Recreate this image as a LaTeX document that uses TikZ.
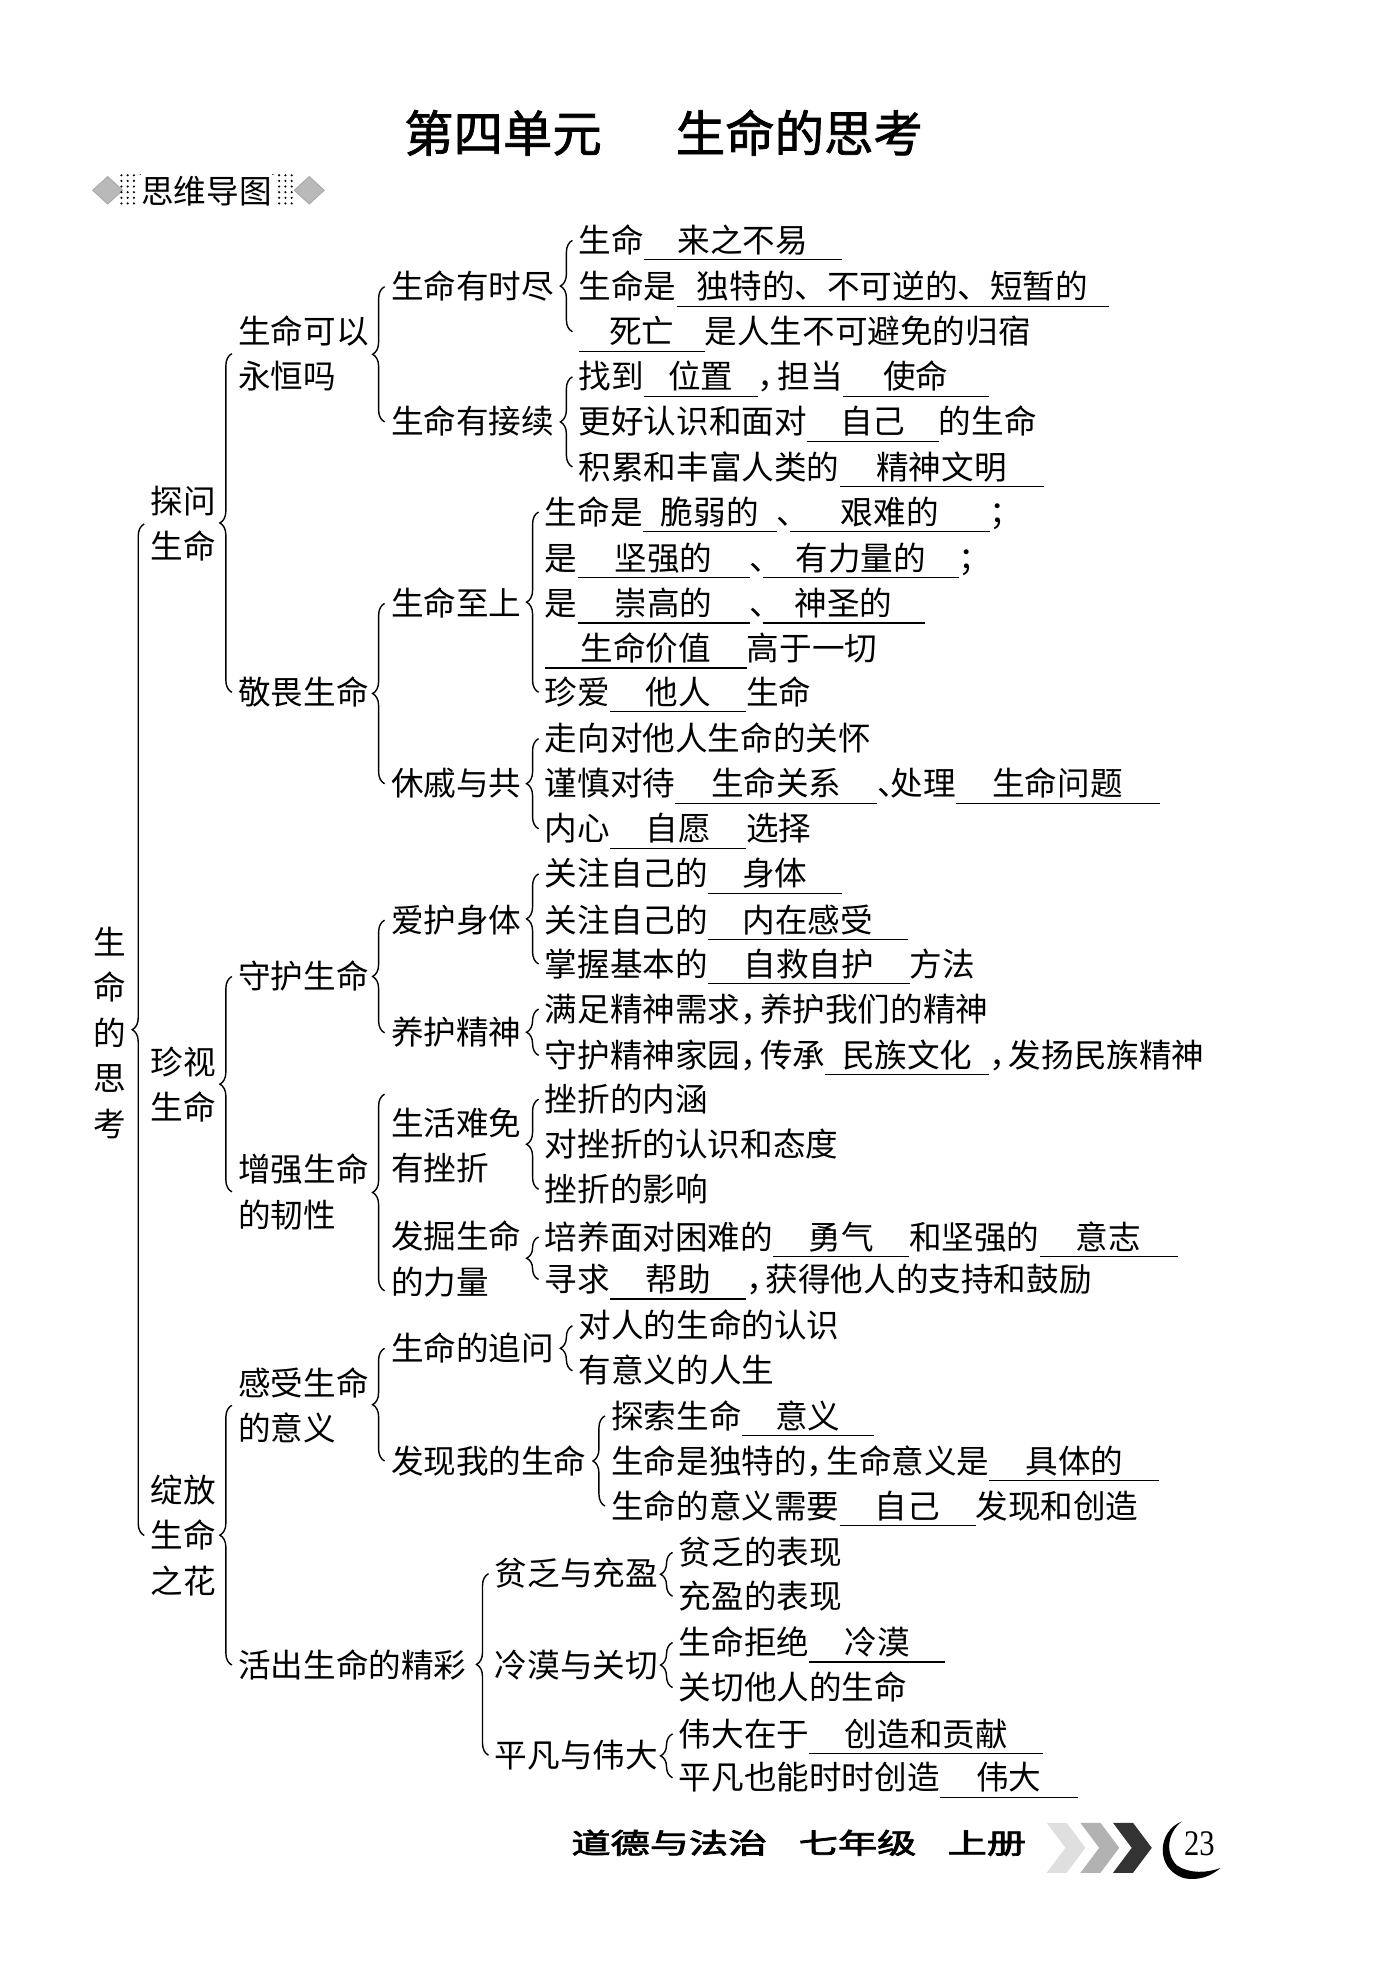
\documentclass[tikz,border=0pt]{standalone}
\usepackage{fontspec}
\setmainfont{Noto Sans CJK SC}
\newfontfamily\titlefont[FakeBold=1.5]{Noto Sans CJK SC}
\newfontfamily\footfont[FakeBold=2.5]{Noto Sans CJK SC}
\newfontfamily\numfont{Liberation Serif}
\usetikzlibrary{decorations.pathreplacing, positioning}

\newcommand{\blk}[2]{\rlap{\rule[-4pt]{#1}{0.6pt}}\makebox[#1]{#2}}
\newcommand{\cm}{\makebox[0.6em][l]{，}}
\newcommand{\dn}{\makebox[0.4em][l]{、}}

\tikzset{
  lbl/.style={anchor=west, inner sep=0pt, text height=14.2pt, text depth=2.1pt},
  lblm/.style={anchor=west, inner sep=0pt, align=left},
  brc/.style={decorate, decoration={brace, amplitude=6pt}, line width=0.7pt},
}

\begin{document}
\begin{tikzpicture}[x=0.626pt, y=-0.626pt, font=\fontsize{16.3}{22.7}\selectfont]
    \useasboundingbox (0,0) rectangle (1103,1568);

    % Title
    \node (title) at (530,106) {\titlefont\fontsize{24.7}{24.7}\selectfont 第四单元\hspace{1.5em}生命的思考};

    % Badge
    \filldraw [fill=gray!55, draw=gray!70] (74,152) -- (86,141) -- (98,152) -- (86,163) -- cycle;
    \filldraw [fill=gray!55, draw=gray!70] (235,152) -- (247,141) -- (259,152) -- (247,163) -- cycle;
    \foreach \dx in {97,102,107,112,218,223,228,233}
        \foreach \dy in {140,144.5,149,153.5,158,162.5}
            \fill (\dx,\dy) circle (0.6pt);
    \node [fill=white, inner sep=1pt] (badge) at (165,153) {思维导图};

    % Root and level 1
    \node [lblm, anchor=center, align=center] (root) at (88,825) {生\\命\\的\\思\\考};
    \node [lblm] (p1) at (120,418.5) {探问\\生命};
    \node [lblm] (p2) at (120,866.5) {珍视\\生命};
    \node [lblm] (p3) at (120,1226.5) {绽放\\生命\\之花};

    % Level 2
    \node [lblm] (q1) at (190,282.5) {生命可以\\永恒吗};
    \node [lbl]  (q2) at (190,553) {敬畏生命};
    \node [lbl]  (q3) at (190,780) {守护生命};
    \node [lblm] (q4) at (190,952) {增强生命\\的韧性};
    \node [lblm] (q5) at (190,1122.5) {感受生命\\的意义};
    \node [lbl]  (q6) at (190,1330) {活出生命的精彩};

    % Level 3
    \node [lbl]  (u1) at (312,229) {生命有时尽};
    \node [lbl]  (u2) at (312,337) {生命有接续};
    \node [lbl]  (u3) at (312,482) {生命至上};
    \node [lbl]  (u4) at (312,626) {休戚与共};
    \node [lbl]  (u5) at (312,735) {爱护身体};
    \node [lbl]  (u6) at (312,825) {养护精神};
    \node [lblm] (u7) at (312,915) {生活难免\\有挫折};
    \node [lblm] (u8) at (312,1005.5) {发掘生命\\的力量};
    \node [lbl]  (u9) at (312,1077) {生命的追问};
    \node [lbl]  (u10) at (312,1167) {发现我的生命};
    \node [lbl]  (u11) at (395,1257) {贫乏与充盈};
    \node [lbl]  (u12) at (395,1330) {冷漠与关切};
    \node [lbl]  (u13) at (395,1402) {平凡与伟大};

    % Leaves
    \node [lbl] (a1) at (462,192) {生命\blk{99pt}{来之不易}};
    \node [lbl] (a2) at (462,229) {生命是\blk{216pt}{独特的、不可逆的、短暂的}};
    \node [lbl] (a3) at (462,265) {\blk{63pt}{死亡}是人生不可避免的归宿};
    \node [lbl] (b1) at (462,301) {找到\blk{57pt}{位置}\cm 担当\blk{73pt}{使命}};
    \node [lbl] (b2) at (462,337) {更好认识和面对\blk{66pt}{自己}的生命};
    \node [lbl] (b3) at (462,373) {积累和丰富人类的\blk{102pt}{精神文明}};
    \node [lbl] (c1) at (435,409) {生命是\blk{67pt}{脆弱的}\dn\blk{100pt}{艰难的}；};
    \node [lbl] (c2) at (435,446) {是\blk{86pt}{坚强的}\dn\blk{98pt}{有力量的}；};
    \node [lbl] (c3) at (435,482) {是\blk{86pt}{崇高的}\dn\blk{81pt}{神圣的}};
    \node [lbl] (c4) at (435,518) {\blk{101pt}{生命价值}高于一切};
    \node [lbl] (c5) at (435,553) {珍爱\blk{68pt}{他人}生命};
    \node [lbl] (d1) at (435,590) {走向对他人生命的关怀};
    \node [lbl] (d2) at (435,626) {谨慎对待\blk{101pt}{生命关系}\dn 处理\blk{102pt}{生命问题}};
    \node [lbl] (d3) at (435,662) {内心\blk{68pt}{自愿}选择};
    \node [lbl] (e1) at (435,698) {关注自己的\blk{67pt}{身体}};
    \node [lbl] (e2) at (435,735) {关注自己的\blk{100pt}{内在感受}};
    \node [lbl] (e3) at (435,770) {掌握基本的\blk{101pt}{自救自护}方法};
    \node [lbl] (f1) at (435,806) {满足精神需求\cm 养护我们的精神};
    \node [lbl] (f2) at (435,843) {守护精神家园\cm 传承\blk{82pt}{民族文化}\cm 发扬民族精神};
    \node [lbl] (g1) at (435,878) {挫折的内涵};
    \node [lbl] (g2) at (435,914) {对挫折的认识和态度};
    \node [lbl] (g3) at (435,950) {挫折的影响};
    \node [lbl] (h1) at (435,988) {培养面对困难的\blk{68pt}{勇气}和坚强的\blk{69pt}{意志}};
    \node [lbl] (h2) at (435,1022) {寻求\blk{68pt}{帮助}\cm 获得他人的支持和鼓励};
    \node [lbl] (i1) at (462,1059) {对人的生命的认识};
    \node [lbl] (i2) at (462,1095) {有意义的人生};
    \node [lbl] (j1) at (488,1131) {探索生命\blk{66pt}{意义}};
    \node [lbl] (j2) at (488,1167) {生命是独特的\cm 生命意义是\blk{85pt}{具体的}};
    \node [lbl] (j3) at (488,1203) {生命的意义需要\blk{68pt}{自己}发现和创造};
    \node [lbl] (k1) at (542,1240) {贫乏的表现};
    \node [lbl] (k2) at (542,1275) {充盈的表现};
    \node [lbl] (l1) at (542,1312) {生命拒绝\blk{68pt}{冷漠}};
    \node [lbl] (l2) at (542,1348) {关切他人的生命};
    \node [lbl] (m1) at (542,1385) {伟大在于\blk{117pt}{创造和贡献}};
    \node [lbl] (m2) at (542,1420) {平凡也能时时创造\blk{69pt}{伟大}};

    % Braces
    \draw [brc] ([xshift=-3pt]p3.west) -- ([xshift=-3pt]p1.west);
    \draw [brc] ([xshift=-3pt]q2.west) -- ([xshift=-3pt]q1.west);
    \draw [brc] ([xshift=-3pt]q4.west) -- ([xshift=-3pt]q3.west);
    \draw [brc] ([xshift=-3pt]q6.west) -- ([xshift=-3pt]q5.west);
    \draw [brc] ([xshift=-3pt]u2.west) -- ([xshift=-3pt]u1.west);
    \draw [brc] ([xshift=-3pt]u4.west) -- ([xshift=-3pt]u3.west);
    \draw [brc] ([xshift=-3pt]u6.west) -- ([xshift=-3pt]u5.west);
    \draw [brc] ([xshift=-3pt,yshift=-16pt]u8.west) -- ([xshift=-3pt,yshift=25.7pt]u7.west);
    \draw [brc] ([xshift=-3pt]u10.west) -- ([xshift=-3pt]u9.west);
    \draw [brc] ([xshift=-3pt]u13.west) -- ([xshift=-3pt]u11.west);
    \draw [brc] ([xshift=-3pt]a3.west) -- ([xshift=-3pt]a1.west);
    \draw [brc] ([xshift=-3pt]b3.west) -- ([xshift=-3pt]b1.west);
    \draw [brc] ([xshift=-3pt]c5.west) -- ([xshift=-3pt]c1.west);
    \draw [brc] ([xshift=-3pt]d3.west) -- ([xshift=-3pt]d1.west);
    \draw [brc] ([xshift=-3pt]e3.west) -- ([xshift=-3pt]e1.west);
    \draw [brc] ([xshift=-3pt]f2.west) -- ([xshift=-3pt]f1.west);
    \draw [brc] ([xshift=-3pt]g3.west) -- ([xshift=-3pt]g1.west);
    \draw [brc] ([xshift=-3pt]h2.west) -- ([xshift=-3pt]h1.west);
    \draw [brc] ([xshift=-3pt]i2.west) -- ([xshift=-3pt]i1.west);
    \draw [brc] ([xshift=-3pt]j3.west) -- ([xshift=-3pt]j1.west);
    \draw [brc] ([xshift=-3pt]k2.west) -- ([xshift=-3pt]k1.west);
    \draw [brc] ([xshift=-3pt]l2.west) -- ([xshift=-3pt]l1.west);
    \draw [brc] ([xshift=-3pt]m2.west) -- ([xshift=-3pt]m1.west);

    % Footer
    \node (foot) at (638,1472) {\scalebox{1.4}[1]{\footfont\fontsize{14}{14}\selectfont 道德与法治\hspace{0.8em}七年级\hspace{0.8em}上册}};
    \foreach \dx/\col in {0/gray!25, 27/gray!60, 53/black!80}
        \fill [\col, shift={(\dx,0)}] (836,1456) -- (852,1456) -- (867,1476) -- (852,1496) -- (836,1496) -- (851,1476) -- cycle;
    \fill (944,1455) .. controls (925,1462) and (922,1492) .. (945,1500) .. controls (958,1503) and (968,1498) .. (975,1492) .. controls (965,1496) and (950,1497) .. (940,1490) .. controls (930,1480) and (933,1463) .. (944,1455) -- cycle;
    \node (page) at (958,1473) {\numfont\fontsize{18}{18}\selectfont\scalebox{0.85}[1]{23}};
\end{tikzpicture}
\end{document}
